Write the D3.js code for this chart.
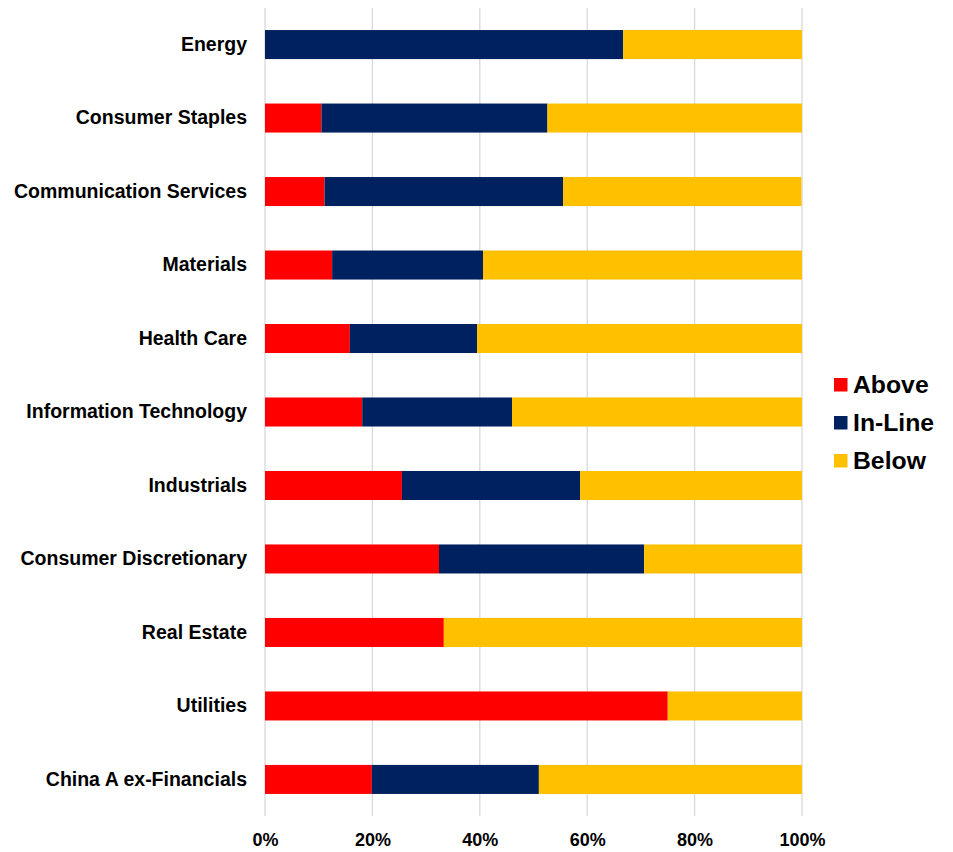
<!DOCTYPE html>
<html>
<head>
<meta charset="utf-8">
<script src="https://cdn.jsdelivr.net/npm/d3@7"></script>
<style>
  body { margin: 0; background: #fff; }
  svg { display: block; font-family: "Liberation Sans", Arial, sans-serif; }
</style>
</head>
<body>
<svg id="chart" width="953" height="852"></svg>
<script>
// Sectors, top to bottom
const categories = [
  "Energy", "Consumer Staples", "Communication Services", "Materials",
  "Health Care", "Information Technology", "Industrials",
  "Consumer Discretionary", "Real Estate", "Utilities", "China A ex-Financials"
];
// Share of companies (%) by result vs. expectations
const above  = [0,    10.5, 11.1, 12.5, 15.8, 18.1, 25.5, 32.4, 33.3, 75.0, 19.9];
const inLine = [66.7, 42.1, 44.4, 28.1, 23.7, 27.9, 33.2, 38.2, 0,    0,    31.1];
const below  = [33.3, 47.4, 44.4, 59.4, 60.5, 54.0, 41.3, 29.4, 66.7, 25.0, 49.0];
const seriesNames = ["Above", "In-Line", "Below"];
const seriesColors = ["#ff0000", "#00215f", "#ffc000"];
const xTicks = [0, 20, 40, 60, 80, 100];

const rows = categories.map((c, i) => ({
  category: c, "Above": above[i], "In-Line": inLine[i], "Below": below[i]
}));

const svg = d3.select("#chart");
const x = d3.scaleLinear().domain([0, 100]).range([265, 802]);
const y = d3.scaleBand().domain(categories).range([8, 816]).paddingInner(0.605).paddingOuter(0.3);

// Vertical gridlines
svg.append("g").selectAll("line").data(xTicks).join("line")
  .attr("x1", d => x(d)).attr("x2", d => x(d))
  .attr("y1", 8).attr("y2", 816)
  .attr("stroke", "#d9d9d9").attr("stroke-width", 1.3);

// Stacked bars
const stack = d3.stack().keys(seriesNames)(rows);
svg.append("g").selectAll("g").data(stack).join("g")
  .attr("fill", (d, i) => seriesColors[i])
  .selectAll("rect").data(d => d).join("rect")
  .attr("x", d => x(d[0]))
  .attr("width", d => Math.max(0, x(d[1]) - x(d[0])))
  .attr("y", d => y(d.data.category))
  .attr("height", y.bandwidth());

// Category labels
const yAxis = svg.append("g").attr("transform", "translate(265,0)")
  .call(d3.axisLeft(y).tickSize(0).tickPadding(18));
yAxis.select(".domain").remove();
yAxis.selectAll("text")
  .attr("font-size", 19.5).attr("font-weight", "bold").attr("fill", "#000")
  .attr("font-family", "Liberation Sans, Arial, sans-serif");

// Percentage axis labels
const xAxis = svg.append("g").attr("transform", "translate(0,816)")
  .call(d3.axisBottom(x).tickValues(xTicks).tickFormat(d => d + "%").tickSize(0).tickPadding(17));
xAxis.select(".domain").remove();
xAxis.selectAll("text")
  .attr("font-size", 18).attr("font-weight", "bold").attr("fill", "#000")
  .attr("font-family", "Liberation Sans, Arial, sans-serif");

// Legend
const legend = svg.append("g").selectAll("g").data(seriesNames).join("g")
  .attr("transform", (d, i) => `translate(834,${384.5 + i * 38})`);
legend.append("rect")
  .attr("x", 0).attr("y", -6.5).attr("width", 13.5).attr("height", 13.5)
  .attr("fill", (d, i) => seriesColors[i]);
legend.append("text")
  .attr("x", 19).attr("y", 0).attr("dy", "0.34em")
  .attr("font-size", 24.75).attr("font-weight", "bold").attr("fill", "#000")
  .text(d => d);
</script>
</body>
</html>
